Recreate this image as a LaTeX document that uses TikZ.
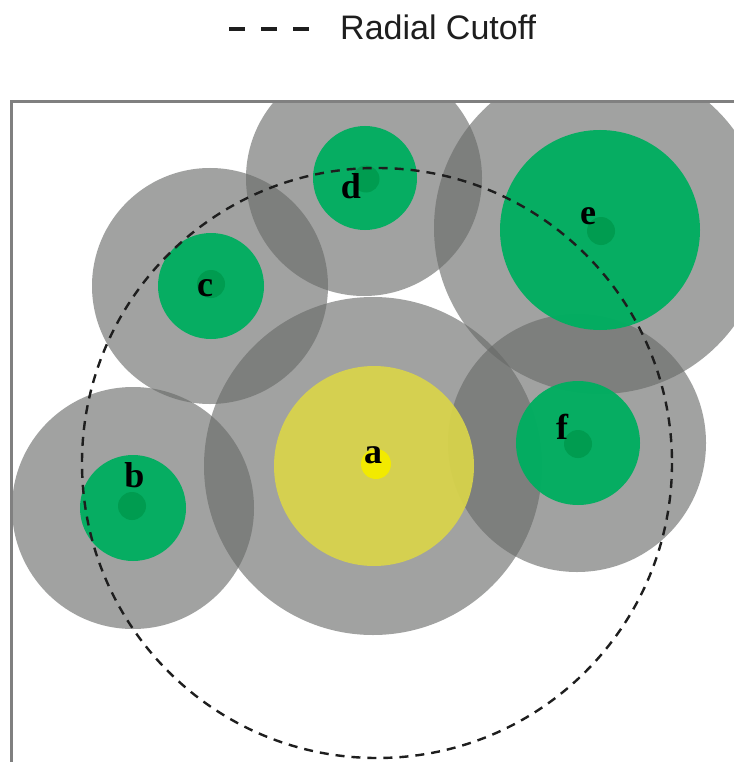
\documentclass[tikz,border=0pt]{standalone}
\usepackage{fontspec}
\setmainfont{Liberation Serif}
\setsansfont{Liberation Sans}
\definecolor{halo}{RGB}{104,106,104}
\definecolor{grn}{RGB}{0,174,96}
\definecolor{ylw}{RGB}{217,212,74}
\definecolor{dotg}{RGB}{0,156,80}
\definecolor{doty}{RGB}{242,234,0}
\definecolor{framec}{RGB}{128,128,128}
\definecolor{ink}{RGB}{30,30,30}
\tikzset{
  halofill/.style={fill=halo,fill opacity=0.62},
  corefill/.style={fill=grn,fill opacity=0.96},
  yelfill/.style={fill=ylw,fill opacity=0.93},
  dotfill/.style={fill=dotg},
  lbl/.style={font=\fontsize{36}{40}\selectfont\bfseries,text=black,anchor=base,inner sep=0pt},
  cutoff/.style={draw=ink,line width=2.4pt,dash pattern=on 9pt off 7pt},
}
\begin{document}
\begin{tikzpicture}[x=1pt,y=-1pt]
\useasboundingbox (0,0) rectangle (733,762);
\fill[white] (0,0) rectangle (733,762);
% legend
\coordinate (l1) at (229,29);
\coordinate (l2) at (309,29);
\draw[ink,line width=4pt,dash pattern=on 16pt off 16pt] (l1) -- (l2);
\node[font=\sffamily\fontsize{34}{38}\selectfont,text=ink,anchor=base west,inner sep=0pt] (leg) at (340,40) {Radial Cutoff};
% plotting area
\begin{scope}
\clip (11.5,101.5) rectangle (740,770);
% halos
\fill[halofill] (373,466) circle (169);
\fill[halofill] (133,508) circle (121);
\fill[halofill] (210,286) circle (118);
\fill[halofill] (364,178) circle (118);
\fill[halofill] (600,228) circle (166);
\fill[halofill] (577,443) circle (129);
% cores
\fill[yelfill] (374,466) circle (100);
\fill[corefill] (133,508) circle (53);
\fill[corefill] (211,286) circle (53);
\fill[corefill] (365,178) circle (52);
\fill[corefill] (600,230) circle (100);
\fill[corefill] (578,443) circle (62);
% centre dots
\fill[doty] (376,464) circle (15);
\fill[dotfill] (132,506) circle (14);
\fill[dotfill] (211,284) circle (14);
\fill[dotfill] (366,179) circle (13.5);
\fill[dotfill] (601,231) circle (14);
\fill[dotfill] (578,444) circle (14);
% radial cutoff
\draw[cutoff] (377,463) circle (295);
\end{scope}
% frame
\coordinate (f1) at (11.5,770);
\coordinate (f2) at (11.5,101.5);
\coordinate (f3) at (740,101.5);
\draw[framec,line width=2.5pt] (f1) -- (f2) -- (f3);
% labels
\node[lbl] (la) at (373,463) {a};
\node[lbl] (lb) at (134.5,487) {b};
\node[lbl] (lc) at (205,296) {c};
\node[lbl] (ld) at (351,198) {d};
\node[lbl] (le) at (588,224) {e};
\node[lbl] (lf) at (562,439) {f};
\end{tikzpicture}
\end{document}
